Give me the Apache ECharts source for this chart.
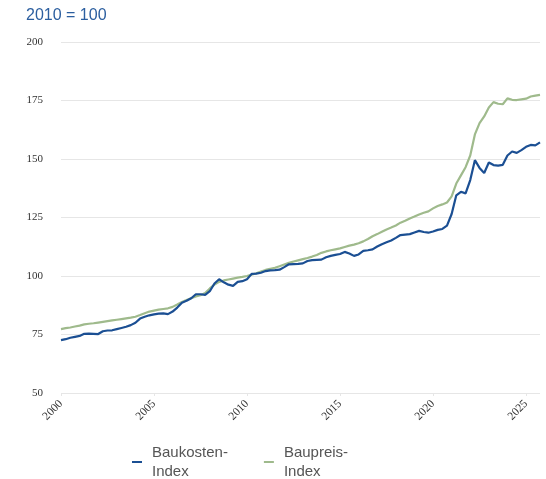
<!DOCTYPE html>
<html>
<head>
<meta charset="utf-8">
<script src="https://cdn.jsdelivr.net/npm/echarts@6/dist/echarts.min.js"></script>
<style>
  html, body { margin: 0; padding: 0; background: #fff; }
  #chart { width: 546px; height: 479px; }
</style>
</head>
<body>
<div id="chart"></div>
<script>
// quarterly values, 2000 Q1 .. 2025 Q4
const baukosten = [
  72.6, 73.0, 73.6, 74.0, 74.4, 75.3, 75.4, 75.3, 75.2, 76.4, 76.7, 76.8,
  77.3, 77.8, 78.3, 79.0, 80.0, 81.8, 82.6, 83.2, 83.6, 83.9, 84.0, 83.7,
  84.8, 86.5, 88.6, 89.4, 90.5, 92.2, 92.2, 91.9, 93.5, 96.8, 98.6, 97.3,
  96.3, 95.8, 97.5, 97.8, 98.6, 100.9, 101.0, 101.4, 102.1, 102.4, 102.5, 102.7,
  103.8, 105.0, 105.1, 105.2, 105.4, 106.4, 106.8, 106.9, 107.0, 108.0, 108.6, 109.0,
  109.4, 110.3, 109.6, 108.6, 109.2, 110.7, 111.0, 111.4, 112.6, 113.6, 114.4, 115.2,
  116.3, 117.5, 117.7, 117.9, 118.6, 119.3, 118.8, 118.5, 119.0, 119.7, 120.1, 121.5,
  126.5, 134.5, 136.0, 135.3, 141.0, 149.5, 146.2, 144.0, 148.5, 147.4, 147.2, 147.5,
  151.5, 153.2, 152.6, 153.8, 155.2, 156.0, 155.8, 157.1
];
const baupreis = [
  77.3, 77.7, 78.0, 78.4, 78.8, 79.3, 79.6, 79.8, 80.1, 80.4, 80.7, 81.0,
  81.3, 81.6, 81.9, 82.2, 82.6, 83.3, 84.1, 84.8, 85.2, 85.6, 85.9, 86.2,
  86.8, 87.8, 88.9, 89.7, 90.5, 91.3, 91.8, 92.7, 94.7, 96.3, 97.5, 98.1,
  98.5, 98.9, 99.3, 99.6, 100.0, 100.6, 101.2, 101.9, 102.6, 103.1, 103.5, 104.2,
  104.9, 105.6, 106.2, 106.7, 107.2, 107.7, 108.3, 109.0, 109.9, 110.5, 111.0, 111.4,
  111.8, 112.4, 113.0, 113.4, 114.0, 114.8, 115.8, 117.0, 117.9, 118.9, 119.9, 120.7,
  121.6, 122.8, 123.6, 124.6, 125.4, 126.3, 127.0, 127.6, 128.9, 129.9, 130.6, 131.4,
  134.0, 139.5, 143.0, 146.5, 151.5, 160.5, 165.3, 168.2, 172.0, 174.3, 173.6, 173.4,
  175.9, 175.3, 175.2, 175.5, 175.8, 176.7, 177.1, 177.4
];
const firstYear = 2000;
const labelYears = [2000, 2005, 2010, 2015, 2020, 2025];
const seriesNames = ['Baukosten-\nIndex', 'Baupreis-\nIndex'];

const quarters = [];
for (let i = 0; i < baukosten.length; i++) {
  quarters.push((firstYear + Math.floor(i / 4)) + ' Q' + (i % 4 + 1));
}
function isLabelQuarter(idx) {
  return idx % 4 === 0 && labelYears.indexOf(firstYear + idx / 4) >= 0;
}

const chart = echarts.init(document.getElementById('chart'));
chart.setOption({
  animation: false,
  title: {
    text: '2010 = 100',
    left: 21,
    top: 3,
    textStyle: { color: '#2b5e9f', fontSize: 16, fontWeight: 'normal', fontFamily: 'Liberation Sans, Arial, sans-serif' }
  },
  legend: {
    left: 127,
    top: 438,
    itemWidth: 10,
    itemHeight: 2,
    itemGap: 36,
    icon: 'rect',
    textStyle: { color: '#555', fontSize: 15, lineHeight: 19, fontFamily: 'Liberation Sans, Arial, sans-serif', padding: [0, 0, 0, 5] },
    data: seriesNames
  },
  grid: { left: 61, right: 6, top: 42, bottom: 86 },
  xAxis: {
    type: 'category',
    data: quarters,
    boundaryGap: false,
    axisLine: { show: false },
    axisTick: { show: true, interval: isLabelQuarter, length: 3, lineStyle: { color: '#e6e6e6' } },
    axisLabel: {
      interval: isLabelQuarter,
      rotate: 45,
      margin: 9,
      color: '#333',
      fontSize: 11.5,
      fontFamily: 'Liberation Serif, Times New Roman, serif',
      formatter: v => v.slice(0, 4)
    },
    splitLine: { show: false }
  },
  yAxis: {
    type: 'value',
    min: 50,
    max: 200,
    interval: 25,
    axisLine: { show: false },
    axisTick: { show: false },
    axisLabel: { color: '#333', fontSize: 11, margin: 18, fontFamily: 'Liberation Serif, Times New Roman, serif' },
    splitLine: { lineStyle: { color: '#e6e6e6', width: 1 } }
  },
  series: [
    {
      name: seriesNames[1],
      type: 'line',
      data: baupreis,
      showSymbol: false,
      color: '#9fba8c',
      lineStyle: { width: 2.2, color: '#9fba8c' },
      z: 2
    },
    {
      name: seriesNames[0],
      type: 'line',
      data: baukosten,
      showSymbol: false,
      color: '#1b4f93',
      lineStyle: { width: 2.2, color: '#1b4f93' },
      z: 3
    }
  ]
});
</script>
</body>
</html>
